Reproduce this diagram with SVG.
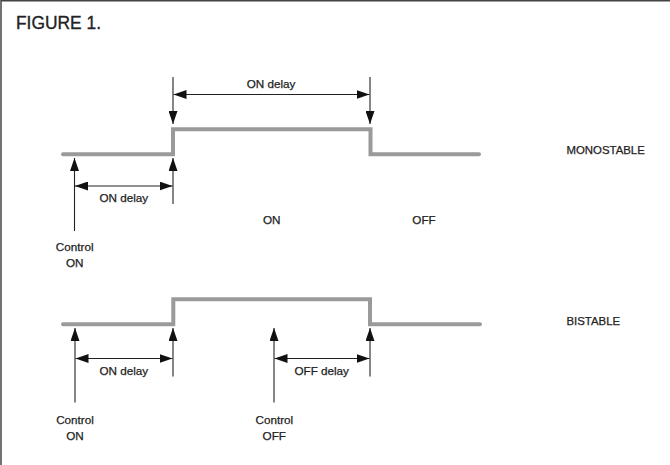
<svg xmlns="http://www.w3.org/2000/svg" width="670" height="465" viewBox="0 0 670 465">
<style>
text{font-family:"Liberation Sans",Arial,Helvetica,sans-serif;fill:#222;font-size:11.7px;stroke:#222;stroke-width:0.25}
.mid{text-anchor:middle}
.wave{fill:none;stroke:#9a9a9a;stroke-width:4;stroke-linecap:round;stroke-linejoin:miter}
.dim{fill:none;stroke:#222;stroke-width:1.1}
.frame{fill:none;stroke:#444;stroke-width:1.5}
</style>
<defs>
<marker id="ah" markerUnits="userSpaceOnUse" markerWidth="14" markerHeight="9" viewBox="0 0 14 9" refX="13" refY="4.5" orient="auto-start-reverse">
<path d="M0,0 L13,4.5 L0,9 z" fill="#111"/>
</marker>
</defs>
<rect width="670" height="465" fill="#fff"/>
<path class="frame" d="M1,465 V0.75 H670"/>
<text x="16" y="29" style="font-size:18.5px;stroke-width:0.35" textLength="85" lengthAdjust="spacingAndGlyphs">FIGURE 1.</text>

<g id="monostable">
<path class="wave" d="M63,154.3 H173 V129.3 H370.5 V154.3 H479"/>
<text x="566.5" y="154.3" style="font-size:11.4px">MONOSTABLE</text>
</g>
<g id="bistable">
<path class="wave" d="M63,324.3 H173.3 V299.3 H370 V324.3 H480"/>
<text x="566.5" y="325" style="font-size:11.4px">BISTABLE</text>
</g>
<g id="states">
<text x="271.7" y="223.5" class="mid">ON</text>
<text x="424" y="224" class="mid">OFF</text>
</g>

<g id="connectors">
<line class="dim" x1="173" y1="77" x2="173" y2="124" marker-end="url(#ah)"/>
<line class="dim" x1="370" y1="77" x2="370" y2="124" marker-end="url(#ah)"/>
<line class="dim" x1="173.5" y1="94.5" x2="369.5" y2="94.5" marker-start="url(#ah)" marker-end="url(#ah)"/>
<line class="dim" x1="74.5" y1="231" x2="74.5" y2="158" marker-end="url(#ah)"/>
<line class="dim" x1="173" y1="204" x2="173" y2="158" marker-end="url(#ah)"/>
<line class="dim" x1="75" y1="186" x2="172.5" y2="186" marker-start="url(#ah)" marker-end="url(#ah)"/>
<line class="dim" x1="75" y1="402.5" x2="75" y2="328" marker-end="url(#ah)"/>
<line class="dim" x1="173" y1="376.5" x2="173" y2="328" marker-end="url(#ah)"/>
<line class="dim" x1="75.5" y1="358.5" x2="172.5" y2="358.5" marker-start="url(#ah)" marker-end="url(#ah)"/>
<line class="dim" x1="274" y1="402.5" x2="274" y2="328" marker-end="url(#ah)"/>
<line class="dim" x1="370" y1="376.5" x2="370" y2="328" marker-end="url(#ah)"/>
<line class="dim" x1="274.5" y1="358.5" x2="369.5" y2="358.5" marker-start="url(#ah)" marker-end="url(#ah)"/>
</g>

<g id="labels">
<text x="271" y="88" class="mid">ON delay</text>
<text x="123.8" y="201.5" class="mid">ON delay</text>
<text x="123.8" y="375" class="mid">ON delay</text>
<text x="321.7" y="374.5" class="mid">OFF delay</text>
<text x="74.7" y="251" class="mid">Control</text>
<text x="74.7" y="267" class="mid">ON</text>
<text x="75" y="423.5" class="mid">Control</text>
<text x="75" y="439.5" class="mid">ON</text>
<text x="274.3" y="423.5" class="mid">Control</text>
<text x="274.3" y="439.5" class="mid">OFF</text>
</g>
</svg>
